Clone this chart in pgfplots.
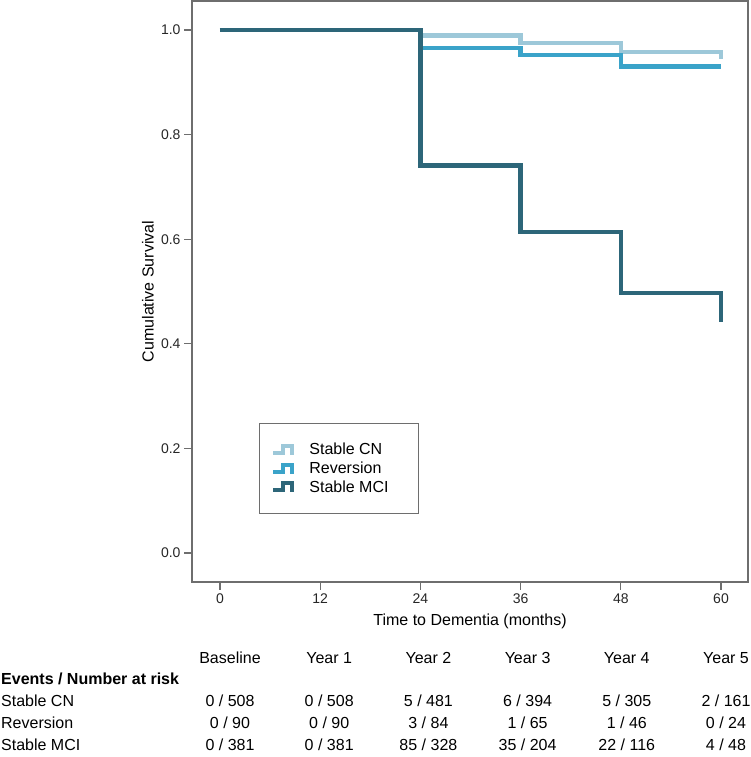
\documentclass[border=0pt]{standalone}
\usepackage{fontspec}
\setmainfont{Liberation Sans}
\usepackage{pgfplots}
\pgfplotsset{compat=1.18}
\definecolor{cnc}{HTML}{9DC8D9}
\definecolor{revc}{HTML}{3AA3C9}
\definecolor{mcic}{HTML}{2D6679}
\definecolor{axc}{HTML}{6E6E6E}
\newcommand{\lbl}{\fontsize{16}{19}\selectfont}
\newcommand{\tck}{\fontsize{14}{16.5}\selectfont}

\begin{document}
\begin{tikzpicture}
\useasboundingbox (-192pt,-175pt) rectangle (558pt,582pt);
\begin{axis}[
  width=556pt, height=581pt, scale only axis,
  xmin=-3.35, xmax=63.23, ymin=-0.0554, ymax=1.0554,
  xtick={0,12,24,36,48,60}, ytick={0,0.2,0.4,0.6,0.8,1},
  tick pos=left, tick align=outside, major tick length=8pt,
  axis line style={axc, line width=1.2pt},
  every tick/.style={axc, line width=1.2pt},
  ticklabel style={font=\tck, text=black!85},
  yticklabel style={/pgf/number format/.cd, fixed, fixed zerofill, precision=1},
  /pgf/number format/assume math mode=true,
  xlabel={Time to Dementia (months)}, ylabel={Cumulative Survival},
  every axis x label/.style={at={(axis description cs:0.5,0)}, anchor=base, yshift=-43.5pt, font=\lbl},
  every axis y label/.style={at={(axis description cs:0,0.5)}, rotate=90, anchor=center, yshift=44pt, font=\lbl},
  legend image code/.code={
    \draw[#1, line width=4pt] (0pt,-3pt) -- (10pt,-3pt) -- (10pt,4pt) -- (19pt,4pt) -- (19pt,-5pt);
    \path[draw=none] (0pt,0pt) -- (34pt,0pt);
  },
  legend cell align=left,
  legend style={at={(rel axis cs:0.1205,0.2737)}, anchor=north west,
    draw=axc, line width=0.8pt, fill=white, font=\lbl,
    inner xsep=12pt, inner ysep=18pt, row sep=1.5pt},
  every axis plot/.append style={const plot, line width=4.5pt, line cap=butt, line join=miter},
]
\addplot[cnc] coordinates {(0,1) (24,0.989) (36,0.975) (48,0.958) (60,0.944)};
\addlegendentry{Stable CN}
\addplot[revc] coordinates {(0,1) (24,0.966) (36,0.952) (48,0.930) (60,0.930)};
\addlegendentry{Reversion}
\addplot[mcic] coordinates {(0,1) (24,0.741) (36,0.614) (48,0.497) (60,0.442)};
\addlegendentry{Stable MCI\hspace*{16pt}}
\end{axis}
% number-at-risk table below the axis
\begin{scope}[every node/.style={inner sep=0pt, font=\lbl}]
\foreach \x/\t in {38/Baseline, 137.2/Year 1, 236.4/Year 2, 335.6/Year 3, 434.8/Year 4, 534/Year 5}
  \node[anchor=base] at (\x pt,-81.5pt) {\t};
\node[anchor=base west, font=\lbl\bfseries] at (-191pt,-102.5pt) {Events / Number at risk};
\node[anchor=base west] at (-191pt,-124.5pt) {Stable CN};
\node[anchor=base west] at (-191pt,-146.5pt) {Reversion};
\node[anchor=base west] at (-191pt,-168.5pt) {Stable MCI};
\foreach \x/\t in {38/{0 / 508}, 137.2/{0 / 508}, 236.4/{5 / 481}, 335.6/{6 / 394}, 434.8/{5 / 305}, 534/{2 / 161}}
  \node[anchor=base] at (\x pt,-124.5pt) {\t};
\foreach \x/\t in {38/{0 / 90}, 137.2/{0 / 90}, 236.4/{3 / 84}, 335.6/{1 / 65}, 434.8/{1 / 46}, 534/{0 / 24}}
  \node[anchor=base] at (\x pt,-146.5pt) {\t};
\foreach \x/\t in {38/{0 / 381}, 137.2/{0 / 381}, 236.4/{85 / 328}, 335.6/{35 / 204}, 434.8/{22 / 116}, 534/{4 / 48}}
  \node[anchor=base] at (\x pt,-168.5pt) {\t};
\end{scope}
\end{tikzpicture}
\end{document}
